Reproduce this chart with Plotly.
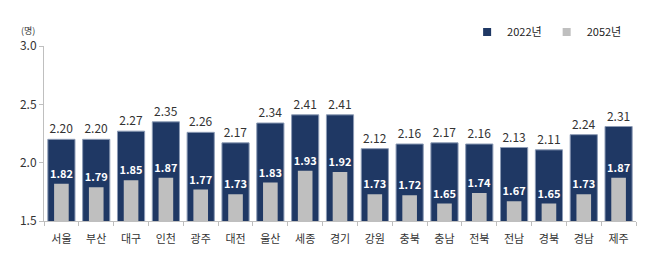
import plotly.graph_objects as go

regions = ["서울", "부산", "대구", "인천", "광주", "대전", "울산", "세종", "경기",
           "강원", "충북", "충남", "전북", "전남", "경북", "경남", "제주"]
v2022 = [2.20, 2.20, 2.27, 2.35, 2.26, 2.17, 2.34, 2.41, 2.41,
         2.12, 2.16, 2.17, 2.16, 2.13, 2.11, 2.24, 2.31]
v2052 = [1.82, 1.79, 1.85, 1.87, 1.77, 1.73, 1.83, 1.93, 1.92,
         1.73, 1.72, 1.65, 1.74, 1.67, 1.65, 1.73, 1.87]
series_names = ["2022년", "2052년"]
colors = ["#1F3864", "#BFBFBF"]

FONT = "Noto Sans CJK KR"
fig = go.Figure()
fig.add_trace(go.Bar(
    x=regions, y=v2022, name=series_names[0], width=0.78, showlegend=False,
    marker=dict(color=colors[0], line=dict(color="#8C9BB5", width=1)),
    text=[f"{v:.2f}" for v in v2022], textposition="outside", constraintext="none",
    textfont=dict(family=FONT, size=12, color="#333333"),
    cliponaxis=False,
))
fig.add_trace(go.Bar(
    x=regions, y=v2052, name=series_names[1], width=0.42, showlegend=False,
    marker=dict(color=colors[1], line=dict(width=0)),
    text=[f"<b>{v:.2f}</b>" for v in v2052], textposition="outside", constraintext="none",
    textfont=dict(family=FONT, size=11, color="#FFFFFF"),
    cliponaxis=False,
))
for name, c in zip(series_names, colors):
    fig.add_trace(go.Scatter(x=[regions[0]], y=[0], mode="markers", name=name,
                             marker=dict(symbol="square", size=8, color=c)))
fig.update_layout(
    width=655, height=271, barmode="overlay",
    margin=dict(l=44, r=19, t=46, b=50),
    paper_bgcolor="white", plot_bgcolor="white",
    font=dict(family=FONT, size=11, color="#333333"),
    showlegend=True,
    legend=dict(orientation="h", x=0.985, y=1.08, xanchor="right", yanchor="middle",
                font=dict(family=FONT, size=11, color="#222222"),
                itemwidth=30, tracegroupgap=0, bgcolor="rgba(0,0,0,0)"),
    annotations=[dict(text="(명)", xref="paper", yref="paper", x=-0.027, y=1.086,
                      xanchor="center", yanchor="middle", showarrow=False,
                      font=dict(family=FONT, size=9, color="#333333"))],
)
fig.update_yaxes(range=[1.5, 3.0], tickvals=[1.5, 2.0, 2.5, 3.0], ticktext=["1.5", "2.0", "2.5", "3.0"],
                 showgrid=False, zeroline=False, showline=True, linecolor="#BFBFBF", linewidth=1,
                 ticks="outside", ticklen=4, tickcolor="#BFBFBF",
                 tickfont=dict(family=FONT, size=12, color="#333333"))
fig.update_xaxes(type="category", categoryorder="array", categoryarray=regions,
                 range=[-0.5, len(regions) - 0.5],
                 showgrid=False, showline=True, linecolor="#BFBFBF", linewidth=1,
                 ticks="outside", ticklen=4, tickcolor="#BFBFBF", tickson="boundaries",
                 ticklabelstandoff=8, tickangle=0,
                 tickfont=dict(family=FONT, size=11, color="#333333"))
fig.write_html("out.html")
